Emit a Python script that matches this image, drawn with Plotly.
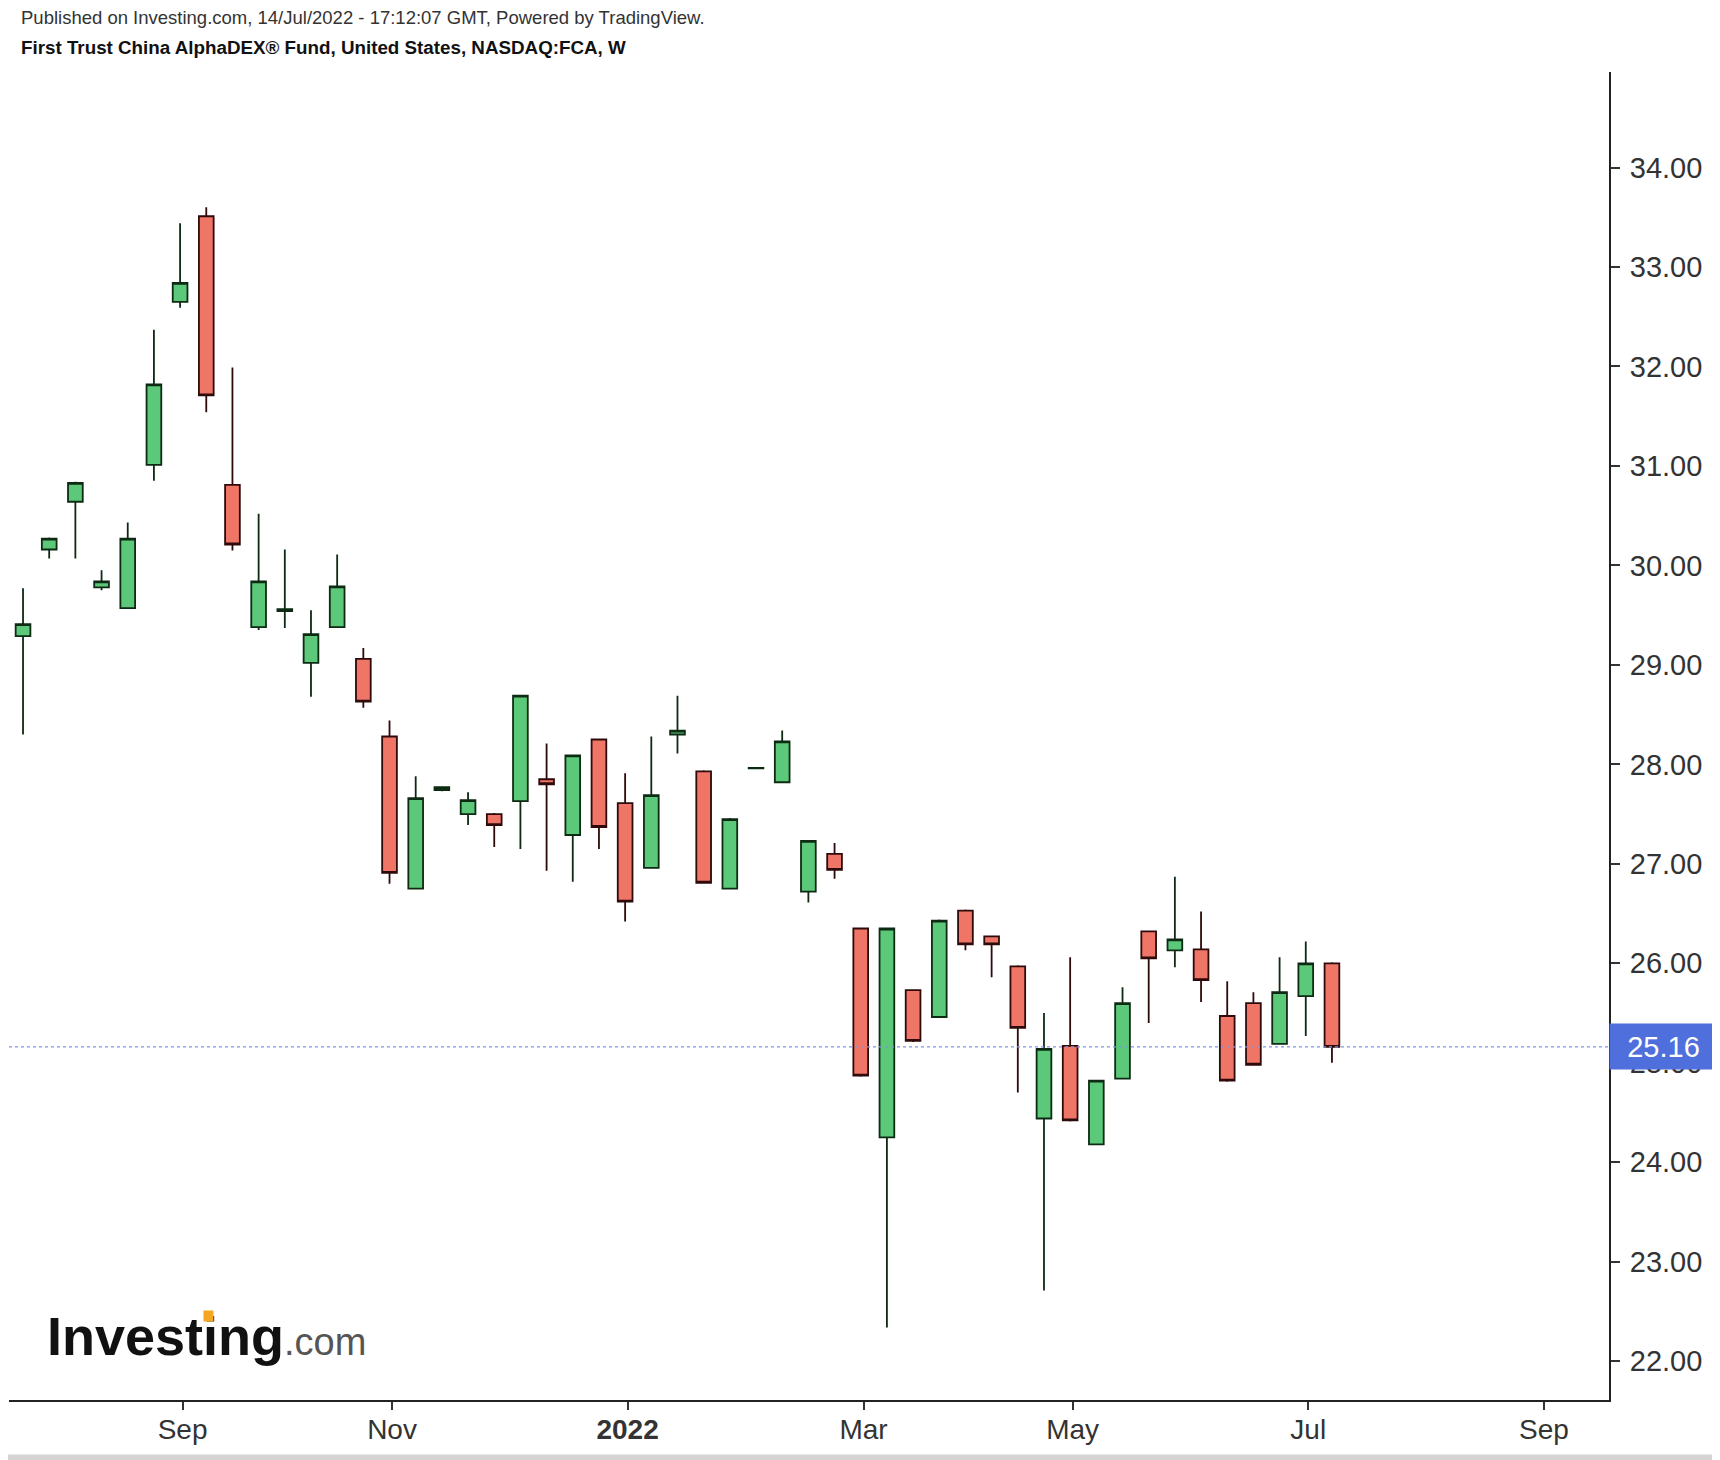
import pandas as pd
import plotly.graph_objects as go

# ---------------- data ----------------
weeks = pd.date_range("2021-07-26", periods=51, freq="7D")

opens = [29.29, 30.16, 30.64, 29.78, 29.57, 31.01, 32.65, 33.51, 30.81, 29.38,
         29.54, 29.02, 29.38, 29.06, 28.28, 26.75, 27.74, 27.50, 27.50, 27.63,
         27.85, 27.29, 28.25, 27.61, 26.96, 28.30, 27.93, 26.75, 27.96, 27.82,
         26.72, 27.10, 26.35, 24.25, 25.73, 25.46, 26.53, 26.27, 25.97, 24.44,
         25.17, 24.18, 24.84, 26.32, 26.13, 26.14, 25.47, 25.60, 25.19, 25.67,
         26.00]
highs = [29.77, 30.28, 30.84, 29.95, 30.43, 32.37, 33.44, 33.60, 31.99, 30.52,
         30.16, 29.55, 30.11, 29.17, 28.44, 27.88, 27.78, 27.72, 27.51, 28.70,
         28.21, 28.10, 28.26, 27.91, 28.28, 28.69, 27.94, 27.46, 27.965, 28.34,
         27.24, 27.21, 26.36, 26.36, 25.74, 26.44, 26.54, 26.28, 25.98, 25.50,
         26.06, 24.83, 25.76, 26.33, 26.87, 26.52, 25.82, 25.71, 26.06, 26.22,
         26.01]
lows = [28.30, 30.07, 30.07, 29.75, 29.57, 30.85, 32.59, 31.54, 30.15, 29.35,
        29.37, 28.68, 29.38, 28.57, 26.80, 26.75, 27.73, 27.39, 27.17, 27.15,
        26.93, 26.82, 27.15, 26.42, 26.96, 28.11, 26.80, 26.75, 27.96, 27.82,
        26.61, 26.85, 24.86, 22.34, 25.21, 25.46, 26.13, 25.86, 24.70, 22.71,
        24.41, 24.17, 24.84, 25.40, 25.96, 25.61, 24.81, 24.97, 25.19, 25.27,
        25.00]
closes = [29.41, 30.27, 30.83, 29.84, 30.27, 31.82, 32.84, 31.71, 30.21, 29.84,
          29.56, 29.31, 29.79, 28.63, 26.91, 27.66, 27.77, 27.64, 27.39, 28.69,
          27.80, 28.09, 27.37, 26.62, 27.69, 28.34, 26.81, 27.45, 27.965, 28.23,
          27.23, 26.94, 24.87, 26.35, 25.22, 26.43, 26.19, 26.19, 25.35, 25.14,
          24.42, 24.82, 25.60, 26.05, 26.24, 25.83, 24.82, 24.98, 25.71, 26.00,
          25.16]

last_price = 25.16

tick_dates = ["2021-09-06 16:00", "2021-11-01 16:00", "2022-01-03 16:00",
              "2022-03-07 18:00", "2022-05-02 16:00", "2022-07-04 16:00",
              "2022-09-05 16:00"]
tick_labels = ["Sep", "Nov", "<b>2022</b>", "Mar", "May", "Jul", "Sep"]

y_ticks = [22, 23, 24, 25, 26, 27, 28, 29, 30, 31, 32, 33, 34]

# ---------------- figure ----------------
FONT = "Liberation Sans, Arial, sans-serif"

fig = go.Figure(go.Candlestick(
    x=weeks, open=opens, high=highs, low=lows, close=closes,
    increasing=dict(line=dict(color="#0d2a12", width=1.8), fillcolor="#5cc87a"),
    decreasing=dict(line=dict(color="#2e0a0a", width=1.8), fillcolor="#ef7567"),
    whiskerwidth=0,
    hoverinfo="x+y",
))

fig.update_layout(
    width=1720, height=1460,
    margin=dict(l=1, r=119, t=64, b=68),
    paper_bgcolor="white", plot_bgcolor="white",
    showlegend=False,
    boxgap=0.25, boxgroupgap=0.25,
    font=dict(family=FONT, color="#333"),
)

fig.update_xaxes(
    type="date",
    range=["2021-07-22 06:00", "2022-09-23 02:00"],
    rangeslider=dict(visible=False),
    tickvals=tick_dates, ticktext=tick_labels,
    showgrid=False, zeroline=False,
    showline=True, linecolor="#222", linewidth=2,
    ticks="outside", ticklen=8, tickwidth=1.5, tickcolor="#333",
    ticklabelstandoff=-5,
    tickfont=dict(family=FONT, size=28, color="#333"),
)
fig.update_yaxes(
    side="right",
    range=[21.61, 34.96],
    tickvals=y_ticks, tickformat=".2f",
    showgrid=False, zeroline=False,
    showline=True, linecolor="#222", linewidth=2,
    ticks="outside", ticklen=9, tickwidth=1.5, tickcolor="#333",
    ticklabelstandoff=4,
    tickfont=dict(family=FONT, size=29, color="#333"),
)

# last price line
fig.add_shape(type="line", xref="paper", x0=0, x1=1, yref="y",
              y0=last_price, y1=last_price,
              line=dict(color="#7f93ee", width=1.2, dash="dot"), layer="above")

# last price label
fig.add_annotation(xref="paper", x=1, xanchor="left", yref="y", y=last_price,
                   yanchor="middle", text=f"{last_price:.2f}", showarrow=False,
                   bgcolor="#4f6fdc", width=105, height=43, align="center",
                   font=dict(family=FONT, size=29, color="white"))

# header
fig.add_annotation(xref="paper", yref="paper", x=0.00625, y=1.0410,
                   xanchor="left", yanchor="middle", showarrow=False,
                   text="Published on Investing.com, 14/Jul/2022 - 17:12:07 GMT, Powered by TradingView.",
                   font=dict(family=FONT, size=18.5, color="#333"))
fig.add_annotation(xref="paper", yref="paper", x=0.00625, y=1.0187,
                   xanchor="left", yanchor="middle", showarrow=False,
                   text="<b>First Trust China AlphaDEX® Fund, United States, NASDAQ:FCA, W</b>",
                   font=dict(family=FONT, size=18.8, color="#111"))

# logo
fig.add_annotation(xref="paper", yref="paper", x=0.0225, y=0.0482,
                   xanchor="left", yanchor="middle", showarrow=False,
                   text="<b>Investing</b><span style='font-size:38px;color:#555'>.com</span>",
                   font=dict(family=FONT, size=54, color="#111"))
fig.add_annotation(xref="paper", yref="paper", x=0.1246, y=0.0636,
                   xanchor="center", yanchor="middle", showarrow=False,
                   text=" ", bgcolor="#f5a623", width=9, height=10, borderpad=0)

# bottom card edge
fig.add_shape(type="rect", xref="paper", yref="paper",
              x0=-0.01, x1=1.08, y0=-0.0460, y1=-0.0410,
              fillcolor="#d4d4d4", line=dict(width=0), layer="below")

fig.write_html("out.html")
